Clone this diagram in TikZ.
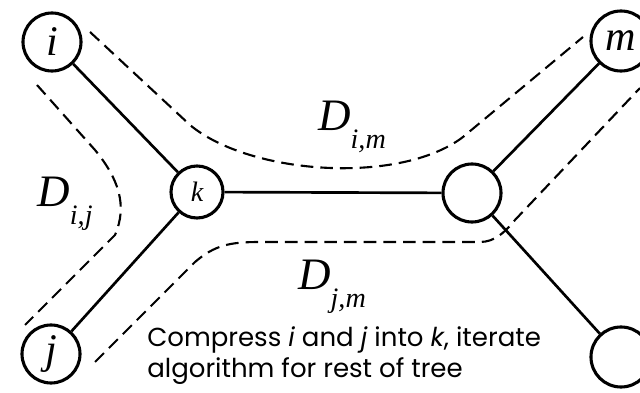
\documentclass[tikz,border=0pt]{standalone}
\usepackage{fontspec}
\setmainfont{Liberation Serif}
\newfontfamily\notefont{Poppins}
\usetikzlibrary{positioning}
\tikzset{
    % Node styles
    treenode/.style={
        circle,
        draw=black,
        line width=2.2pt,
        fill=white,
        minimum size=1.45cm,
        inner sep=0pt,
        font=\fontsize{30}{30}\selectfont\itshape
    },
    % Line styles
    treeedge/.style={
        draw=black,
        line width=1.9pt
    },
    distpath/.style={
        draw=black,
        line width=1.5pt,
        dash pattern=on 9pt off 5pt
    },
    distlabel/.style={
        font=\fontsize{32}{32}\selectfont\itshape,
        inner sep=0pt
    },
    notetext/.style={
        font=\notefont\fontsize{18.5}{22}\selectfont,
        align=left,
        inner sep=0pt
    }
}
\newcommand{\distname}[2]{#1\raisebox{-0.4em}{\fontsize{20}{20}\selectfont #2}}
\begin{document}
\begin{tikzpicture}[x=0.025cm, y=-0.025cm]
    \useasboundingbox (0,0) rectangle (640,393);

    % Tree
    \node[treenode] (i) at (52,42) {i};
    \node[treenode] (j) at (51,354) {j};
    \node[treenode,minimum size=1.3cm,font=\fontsize{20}{20}\selectfont\itshape] (k) at (197,192) {k};
    \node[treenode] (r) at (472,193) {};
    \node[treenode,minimum size=1.5cm] (m) at (621,41) {m};
    \node[treenode,minimum size=1.5cm] (b) at (621,357) {};

    \draw[treeedge] (i) -- (k);
    \draw[treeedge] (j) -- (k);
    \draw[treeedge] (k) -- (r);
    \draw[treeedge] (r) -- (m);
    \draw[treeedge] (r) -- (b);

    % Distances
    \draw[distpath] (37,85) -- (95,150) .. controls (118,178) and (128,205) .. (115,235) -- (25,325);
    \draw[distpath] (90,32) -- (190,125) .. controls (250,175) and (400,185) .. (463,137) -- (583,37);
    \draw[distpath] (95,362) -- (195,262) .. controls (215,245) and (230,242) .. (260,242)
        -- (480,242) .. controls (495,242) and (505,232) .. (515,220) -- (640,88);

    \node[distlabel] (dij) at (65,204) {\distname{D}{i,j}};
    \node[distlabel] (dim) at (352,127) {\distname{D}{i,m}};
    \node[distlabel] (djm) at (332,287) {\distname{D}{j,m}};

    % Note
    \node[notetext,anchor=north west] (note) at (147,326)
        {Compress \textit{i} and \textit{j} into \textit{k}, iterate\\algorithm for rest of tree};
\end{tikzpicture}
\end{document}
